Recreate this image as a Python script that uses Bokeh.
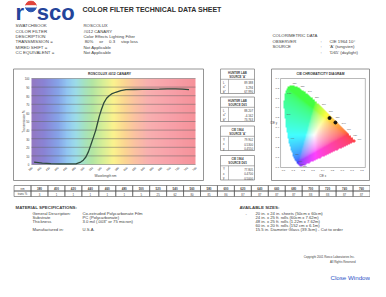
import numpy as np
from bokeh.plotting import figure
from bokeh.models import Range1d
from bokeh.core.properties import value
from bokeh.embed import file_html
from bokeh.resources import INLINE

# ---------------- data ----------------
NB = "\u00a0"
header_labels = ["SWATCHBOOK", "COLOR FILTER", "DESCRIPTION", "TRANSMISSION =", "MIRED SHIFT =", "CC EQUIVALENT ="]
header_values = ["ROSCOLUX", "#012 CANARY", "Color Effects Lighting Filter",
                 f"{NB}80%{NB*5}or{NB*5}0.3{NB*5}stop loss", "Not Applicable", "Not Applicable"]
colorimetric_labels = ["COLORIMETRIC DATA", "OBSERVER", "SOURCE"]
colorimetric_values = ["CIE 1964 10\u00b0", "'A' (tungsten)", "'D65' (daylight)"]

chart_title = "ROSCOLUX #012 CANARY"
# transmission curve (wavelength nm, transmission %)
curve_wl = [386, 405, 425, 444, 463, 483, 494, 500, 506, 512, 517, 523, 529, 533, 537, 542,
            548, 554, 560, 567, 575, 587, 599, 618, 637, 656, 676, 695, 714, 730, 745]
curve_tr = [2.8, 1.5, 1.0, 0.8, 0.8, 0.8, 2.8, 5.0, 8.7, 15.0, 22.0, 31.0, 40.0, 48.0, 56.0, 64.0,
            72.0, 77.0, 80.0, 82.5, 84.0, 86.0, 87.0, 87.2, 87.4, 87.4, 87.6, 88.0, 88.0, 87.6, 87.0]
y_ticks = [0, 10, 20, 30, 40, 50, 60, 70, 80, 90, 100]

table_wl = [380, 400, 420, 440, 460, 480, 500, 520, 540, 560, 580, 600, 620, 640, 660, 680, 700, 720, 740, 760]
table_tr = [3, 1, 1, 1, 1, 1, 5, 25, 62, 80, 85, 86, 87, 87, 87, 87, 88, 88, 87, 87]

box_titles = [("HUNTER LAB", "SOURCE 'A'"), ("HUNTER LAB", "SOURCE D65"),
              ("CIE 1964", "SOURCE 'A'"), ("CIE 1964", "SOURCE D65")]
box_row_labels = [["L", "a*", "b*"], ["L", "a*", "b*"], ["Y", "x", "y"], ["Y", "x", "y"]]
box_values = [["89.388", "3.294", "67.990"], ["88.207", "-4.162", "73.763"],
              ["79.902", "0.5300", "0.4550"], ["77.805", "0.4700", "0.5000"]]

cie_title = "CIE CHROMATICITY DIAGRAM"
cie_x_ticks = [0.0, 0.1, 0.2, 0.3, 0.4, 0.5, 0.6, 0.7, 0.8]
cie_y_ticks = [0.0, 0.1, 0.2, 0.3, 0.4, 0.5, 0.6, 0.7, 0.8, 0.9]
locus_wl = [380, 400, 420, 440, 450, 460, 470, 475, 480, 485, 490, 495, 500, 505, 510, 515, 520,
            525, 530, 540, 550, 560, 570, 580, 590, 600, 610, 620, 630, 640, 660, 700]
locus_x = [0.1741, 0.1733, 0.1714, 0.1644, 0.1566, 0.1440, 0.1241, 0.1096, 0.0913, 0.0687, 0.0454,
           0.0235, 0.0082, 0.0039, 0.0139, 0.0389, 0.0743, 0.1142, 0.1547, 0.2296, 0.3016, 0.3731,
           0.4441, 0.5125, 0.5752, 0.6270, 0.6658, 0.6915, 0.7079, 0.7190, 0.7300, 0.7347]
locus_y = [0.0050, 0.0048, 0.0051, 0.0109, 0.0177, 0.0297, 0.0578, 0.0868, 0.1327, 0.2007, 0.2950,
           0.4127, 0.5384, 0.6548, 0.7502, 0.8120, 0.8338, 0.8262, 0.8059, 0.7543, 0.6923, 0.6245,
           0.5547, 0.4866, 0.4242, 0.3725, 0.3340, 0.3083, 0.2920, 0.2809, 0.2700, 0.2653]
locus_label_wl = [380, 460, 470, 480, 490, 500, 510, 520, 530, 540, 550, 560, 570, 580, 590, 600, 620, 700]
sample_x = [0.5300, 0.4700]
sample_y = [0.4550, 0.5000]

spec_title = "MATERIAL SPECIFICATIONS:"
spec_labels = ["General Description:", "Substrate", "Thickness", "Manufactured in:"]
spec_values = ["Co-extruded Polycarbonate Film", "PC (Polycarbonate)",
               "3.0 mil (.003\" or 75 micron)", "U.S.A."]
sizes_title = "AVAILABLE SIZES:"
sizes = ["20 in. x 24 in. sheets (50cm x 60cm)", "24 in. x 25 ft. rolls (60cm x 7.62m)",
         "48 in. x 25 ft. rolls (1.22m x 7.62m)", "60 in. x 20 ft. rolls (152 cm x 6.1m)",
         "15.5 in. Diameter Glass (39.3cm) - Cut to order"]
copyright_lines = ["Copyright 2001  Rosco Laboratories Inc.", "All Rights Reserved"]

# ---------------- styles ----------------
FONT = "Liberation Sans"
TXT = "#404040"
LINE = "#7a7a7a"
LOGO = "#24449a"
spectrum_stops_wl = [380, 410, 440, 462, 482, 500, 520, 545, 570, 595, 620, 650, 700, 760]
spectrum_stops_col = ["#9479c2", "#8a84d6", "#86a2e8", "#92c6f2", "#9cdcea", "#a4e2c4", "#b2e6a4",
                      "#d6ef98", "#fbf38e", "#fcd792", "#fbc2a2", "#f8b0b0", "#f8a2aa", "#f6929a"]

W, H = 370, 281
PX0, PX1 = 8, 8 + W
PY_TOP, PY_BOT = 8, 8 + H


def lin_range(v0, p0, v1, p1, p_lo, p_hi):
    s = (v1 - v0) / (p1 - p0)
    return Range1d(start=v0 + (p_lo - p0) * s, end=v0 + (p_hi - p0) * s)


p = figure(width=W, height=H, x_range=Range1d(PX0, PX1), y_range=Range1d(PY_BOT, PY_TOP),
           output_backend="svg", toolbar_location=None, min_border=0,
           x_axis_type=None, y_axis_type=None)
p.outline_line_color = None
p.background_fill_color = "white"

p.extra_x_ranges = {
    "wl": lin_range(380, 39, 760, 203, PX0, PX1),
    "cx": lin_range(0.0, 291, 0.8, 369.4, PX0, PX1),
    "col": lin_range(0, 38.5, 20, 377.5, PX0, PX1),
}
p.extra_y_ranges = {
    "tr": lin_range(0, 172, 100, 86, PY_BOT, PY_TOP),
    "cy": lin_range(0.0, 175, 0.9, 86, PY_BOT, PY_TOP),
    "row": lin_range(0, 204, 2, 193, PY_BOT, PY_TOP),
}


def txt(xs, ys, texts, size, align="left", baseline="middle", color=TXT, bold=False,
        angle=0.0, xr="default", yr="default", **kw):
    p.text(x=xs, y=ys, text=texts, text_font=value(FONT), text_font_size=f"{size}px",
           text_align=align, text_baseline=baseline, text_color=color,
           text_font_style="bold" if bold else "normal", angle=angle,
           x_range_name=xr, y_range_name=yr, **kw)


def hex_rgb(h):
    return [int(h[i:i + 2], 16) for i in (1, 3, 5)]


def pack(r, g, b, a):
    img = np.empty(r.shape, dtype=np.uint32)
    v = img.view(dtype=np.uint8).reshape(r.shape + (4,))
    v[..., 0] = r
    v[..., 1] = g
    v[..., 2] = b
    v[..., 3] = a
    return img


# ---------------- header / logo ----------------
txt([23], [19.6], ["r"], 22, baseline="alphabetic", color=LOGO, bold=True)
p.wedge(x=[38.4], y=[13.9], radius=5.4, start_angle=0, end_angle=np.pi, color="#e0443c")
p.wedge(x=[38.4], y=[13.9], radius=5.4, start_angle=np.pi, end_angle=2 * np.pi, color="#2a55b0")
p.rect(x=[38.4], y=[13.9], width=10.8, height=1.3, color="white")
txt([44.2], [19.6], ["sco"], 22, baseline="alphabetic", color=LOGO, bold=True)
txt([90], [16.7], ["COLOR FILTER TECHNICAL DATA SHEET"], 7.0, color="#2e2e2e", bold=True)

info_y = [33.3 + 5.35 * i for i in range(len(header_labels))]
txt([23] * len(header_labels), info_y, header_labels, 4.4)
txt([91] * len(header_values), info_y, header_values, 4.3)
col_y = [43.3, 49.0, 54.4]
txt([280] * 3, col_y, colorimetric_labels, 4.3)
val_y = [49.0, 54.4, 60.0]
txt([328] * 3, val_y, [":"] * 3, 4.3)
txt([337] * 3, val_y, colorimetric_values, 4.3)

# ---------------- transmission chart ----------------
p.quad(left=[21], right=[211], top=[76.5], bottom=[188], fill_color=None, line_color=LINE, line_width=0.8)
txt([117], [81.6], [chart_title], 3.4, align="center", bold=True, color="#333333")

wl_grid = np.arange(380, 761)
chans = np.array([hex_rgb(c) for c in spectrum_stops_col], dtype=float)
rr = np.interp(wl_grid, spectrum_stops_wl, chans[:, 0])[None, :]
gg = np.interp(wl_grid, spectrum_stops_wl, chans[:, 1])[None, :]
bb = np.interp(wl_grid, spectrum_stops_wl, chans[:, 2])[None, :]
spec_img = pack(rr.astype(np.uint8), gg.astype(np.uint8), bb.astype(np.uint8),
                np.full(rr.shape, 255, np.uint8))
p.image_rgba(image=[spec_img], x=380, y=0, dw=380, dh=100, x_range_name="wl", y_range_name="tr")
p.segment(x0=[380] * len(y_ticks), x1=[760] * len(y_ticks), y0=y_ticks, y1=y_ticks,
          line_color="#5e5e5e", line_alpha=0.8, line_width=0.6, x_range_name="wl", y_range_name="tr")
p.line(curve_wl, curve_tr, line_color="#2f4a3c", line_width=1.3, x_range_name="wl", y_range_name="tr")

txt([375] * len(y_ticks), y_ticks, [str(t) for t in y_ticks], 2.8, align="right",
    xr="wl", yr="tr")
txt([table_wl[0] - 19], [50], ["Transmission %"], 3.2, align="center", angle=np.pi / 2,
    xr="wl", yr="tr")
txt(table_wl, [-2.5] * len(table_wl), [str(w) for w in table_wl], 2.8, align="right",
    angle=np.pi / 4, xr="wl", yr="tr")
txt([113], [183.6], ["Wavelength nm"], 3.2, align="center")

# ---------------- colorimetric boxes ----------------
box_top = [76.5, 104.5, 133.5, 163.0]
box_h = 24.5
p.quad(left=[228] * 4, right=[262] * 4, top=box_top, bottom=[t + box_h for t in box_top],
       fill_color=None, line_color=LINE, line_width=0.7)
p.segment(x0=[228] * 4, x1=[262] * 4, y0=[t + 10.3 for t in box_top], y1=[t + 10.3 for t in box_top],
          line_color=LINE, line_width=0.6)
p.segment(x0=[236] * 4, x1=[236] * 4, y0=[t + 10.3 for t in box_top], y1=[t + box_h for t in box_top],
          line_color=LINE, line_width=0.5)
bt_x, bt_y, bt_t = [], [], []
rl_x, rl_y, rl_t, rv_x, rv_t = [], [], [], [], []
for k, top in enumerate(box_top):
    for j, s in enumerate(box_titles[k]):
        bt_x.append(245)
        bt_y.append(top + 3.3 + 4.0 * j)
        bt_t.append(s)
    for j in range(3):
        yy = top + 13.5 + 4.4 * j
        rl_x.append(230.5)
        rl_y.append(yy)
        rl_t.append(box_row_labels[k][j])
        rv_x.append(260.5)
        rv_t.append(box_values[k][j])
txt(bt_x, bt_y, bt_t, 2.9, align="center", bold=True)
txt(rl_x, rl_y, rl_t, 2.9)
txt(rv_x, rl_y, rv_t, 2.9, align="right")

# ---------------- CIE diagram ----------------
p.quad(left=[279], right=[377], top=[76.5], bottom=[188], fill_color=None, line_color=LINE, line_width=0.8)
txt([328], [81.6], [cie_title], 3.3, align="center", bold=True, color="#333333")

nx, ny = 200, 225
gx = (np.arange(nx) + 0.5) / nx * 0.8
gy = (np.arange(ny) + 0.5) / ny * 0.9
GX, GY = np.meshgrid(gx, gy)
lx, ly = np.array(locus_x), np.array(locus_y)
inside = np.zeros(GX.shape, dtype=bool)
jj = len(lx) - 1
for ii in range(len(lx)):
    xi, yi, xj, yj = lx[ii], ly[ii], lx[jj], ly[jj]
    cond = ((yi > GY) != (yj > GY)) & (GX < (xj - xi) * (GY - yi) / (yj - yi + 1e-12) + xi)
    inside ^= cond
    jj = ii
Yc = np.maximum(GY, 1e-4)
Xv = GX / Yc
Zv = (1 - GX - GY) / Yc
R = 3.2406 * Xv - 1.5372 - 0.4986 * Zv
G = -0.9689 * Xv + 1.8758 + 0.0415 * Zv
B = 0.0557 * Xv - 0.2040 + 1.0570 * Zv
rgb = np.clip(np.stack([R, G, B], -1), 0, None)
rgb = rgb / np.maximum(rgb.max(-1, keepdims=True), 1e-9)
rgb = np.where(rgb <= 0.0031308, 12.92 * rgb, 1.055 * rgb ** (1 / 2.4) - 0.055)
rgb = 0.74 * rgb + 0.26
rgb = (np.clip(rgb, 0, 1) * 255).astype(np.uint8)
cie_img = pack(rgb[..., 0], rgb[..., 1], rgb[..., 2], (inside * 255).astype(np.uint8))
p.image_rgba(image=[cie_img], x=0, y=0, dw=0.8, dh=0.9, x_range_name="cx", y_range_name="cy")
p.quad(left=[-0.03], right=[0.835], bottom=[0.0], top=[0.9], fill_color=None, line_color="#8a8a8a",
       line_width=0.6, x_range_name="cx", y_range_name="cy")
txt(cie_x_ticks, [-0.03] * len(cie_x_ticks), [f"{t:.1f}" for t in cie_x_ticks], 2.5,
    align="center", xr="cx", yr="cy")
txt([-0.045] * len(cie_y_ticks), cie_y_ticks, [f"{t:.1f}" for t in cie_y_ticks], 2.5,
    align="right", xr="cx", yr="cy")
txt([0.4], [-0.085], ["CIE x"], 2.8, align="center", xr="cx", yr="cy")
txt([-0.1], [0.45], ["CIE y"], 2.8, align="center", xr="cx", yr="cy")
lab_x = [locus_x[locus_wl.index(w)] for w in locus_label_wl]
lab_y = [locus_y[locus_wl.index(w)] for w in locus_label_wl]
right_side = [w >= 520 for w in locus_label_wl]
txt([x for x, r in zip(lab_x, right_side) if r], [y for y, r in zip(lab_y, right_side) if r],
    [str(w) for w, r in zip(locus_label_wl, right_side) if r], 2.3, x_offset=2, y_offset=-1.5,
    xr="cx", yr="cy", color="#555555")
txt([x for x, r in zip(lab_x, right_side) if not r], [y for y, r in zip(lab_y, right_side) if not r],
    [str(w) for w, r in zip(locus_label_wl, right_side) if not r], 2.3, x_offset=2.5,
    xr="cx", yr="cy", color="#555555")
p.scatter(sample_x, sample_y, size=3, color="#111111", x_range_name="cx", y_range_name="cy")

# ---------------- wavelength table ----------------
ncol = len(table_wl)
lefts = [-1] + list(range(ncol))
p.quad(left=lefts * 2, right=[l + 1 for l in lefts] * 2, bottom=[1] * (ncol + 1) + [0] * (ncol + 1),
       top=[2] * (ncol + 1) + [1] * (ncol + 1), fill_color=None, line_color="#555555",
       line_width=0.6, x_range_name="col", y_range_name="row")
txt([-0.5], [1.5], ["nm"], 2.8, align="center", xr="col", yr="row")
txt([-0.5], [0.5], ["trans %"], 2.8, align="center", xr="col", yr="row")
txt([i + 0.5 for i in range(ncol)], [1.5] * ncol, [str(w) for w in table_wl], 3.0,
    align="center", bold=True, xr="col", yr="row")
txt([i + 0.5 for i in range(ncol)], [0.5] * ncol, [str(t) for t in table_tr], 2.8,
    align="center", xr="col", yr="row")

# ---------------- material specifications / sizes ----------------
txt([23], [215.3], [spec_title], 4.4, bold=True)
spec_y = [221.0, 225.2, 229.4, 236.7]
txt([40] * 4, spec_y, spec_labels, 4.2)
txt([90] * 4, spec_y, spec_values, 4.2)
txt([247], [215.3], [sizes_title], 4.4, bold=True)
size_y = [220.8, 224.8, 228.8, 232.8, 236.7]
txt([253], [size_y[0]], ["-"], 4.2)
txt([263] * len(sizes), size_y, sizes, 4.2)

txt([363] * 2, [264.3, 268.7], copyright_lines, 2.9, align="right")
txt([377.5], [285.3], ["Close Window"], 6.2, align="right", color="#2d55c8")

open("out.html", "w").write(file_html(p, INLINE))
